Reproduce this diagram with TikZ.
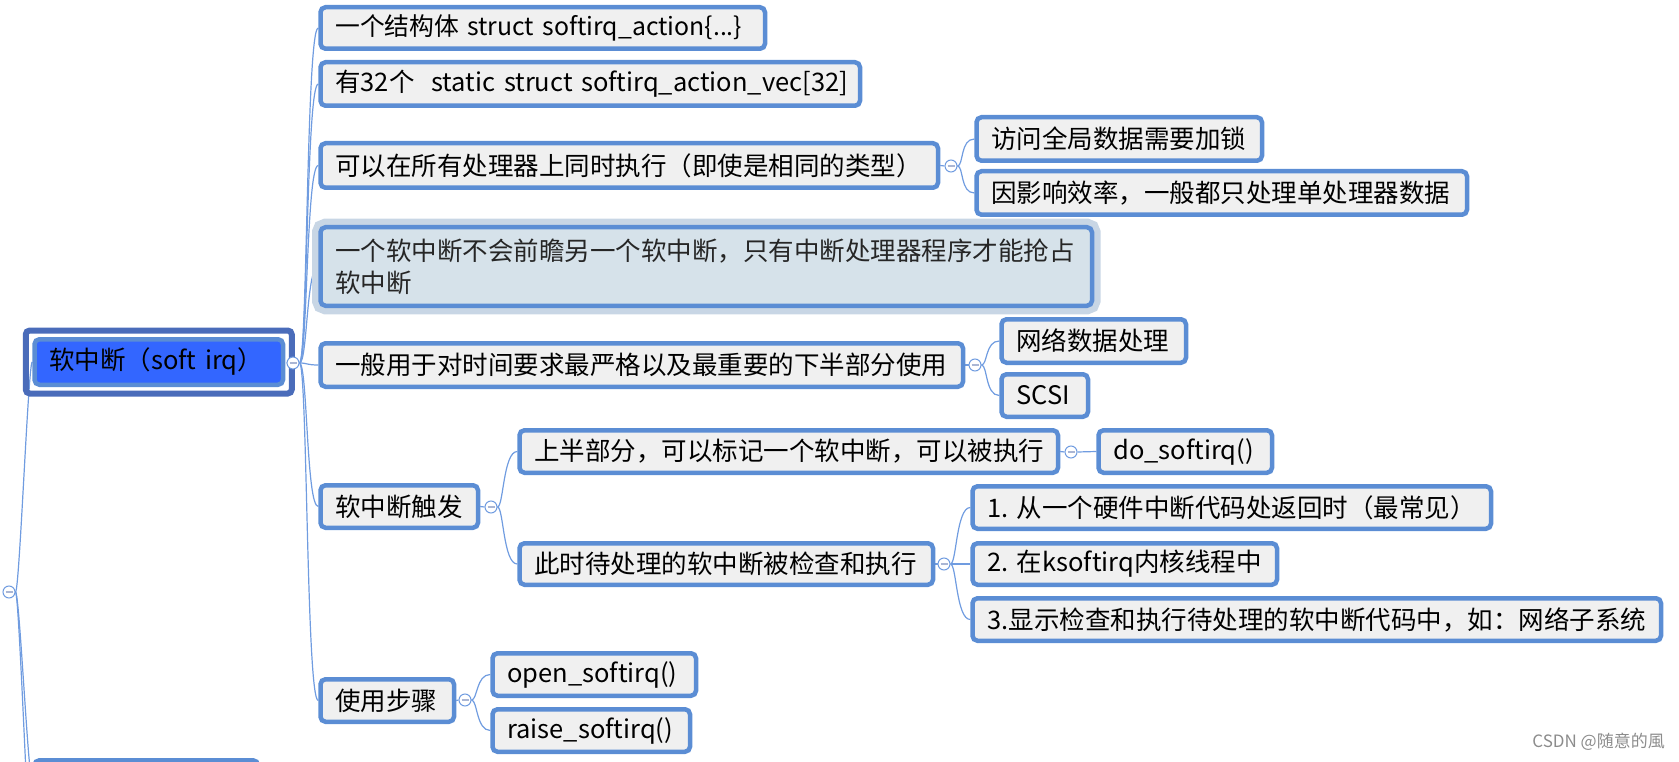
\documentclass[tikz,border=0pt]{standalone}
\usepackage{fontspec}
\setmainfont{Noto Sans CJK SC}
\usetikzlibrary{backgrounds,fit}
\frenchspacing
\definecolor{bblue}{RGB}{91,141,212}
\definecolor{boxgray}{RGB}{240,240,240}
\definecolor{lblue}{RGB}{112,156,224}
\definecolor{togdash}{RGB}{170,182,212}
\definecolor{hlfill}{RGB}{214,226,234}
\definecolor{halo}{RGB}{200,214,229}
\definecolor{rootfill}{RGB}{51,102,255}
\definecolor{rootframe}{RGB}{74,108,186}
\newcommand\tnode[7][]{%
  \pgfmathsetmacro\tnw{#4-#3-34}%
  \pgfmathsetmacro\tnh{#6-#5-4.5}%
  \pgfmathsetmacro\tny{(#5+#6)/2}%
  \pgfmathsetmacro\tnx{#3+2.25}%
  \node[tbox,#1,anchor=west,text width=\tnw pt,minimum height=\tnh pt] (#2) at (\tnx,\tny) {#7};}
\tikzset{
  tbox/.style={draw=bblue, line width=4.5pt, fill=boxgray, rounded corners=5pt,
    inner xsep=14.75pt, inner ysep=0pt, align=left, text=black,
    font=\fontsize{25.5}{32}\selectfont},
  narrowtext/.style={font=\fontsize{24.8}{32}\selectfont},
  hlbox/.style={fill=hlfill, text={black!85}, preaction={draw=halo, line width=17pt}},
  rootbox/.style={fill=rootfill},
  frame/.style={draw=rootframe, line width=6pt, rounded corners=4pt, inner sep=6.5pt},
  conn/.style={draw=lblue, line width=1.2pt},
  tog/.style={circle, draw=lblue, fill=white, line width=1pt, minimum size=12pt, inner sep=0pt,
    path picture={\draw[togdash, line width=1.6pt]
      ([xshift=-3.5pt]path picture bounding box.center) -- ([xshift=3.5pt]path picture bounding box.center);}},
  wmark/.style={text={black!45}, font=\fontsize{17}{19}\selectfont, inner sep=0pt},
}
\begin{document}
\begin{tikzpicture}[x=1pt,y=-1pt]
\useasboundingbox (0,0) rectangle (1679,762);
\clip (0,0) rectangle (1679,762);

% root
\tnode[rootbox]{root}{30}{283}{337}{387}{软中断（soft~irq）}
\node[frame, fit=(root)] (rootf) {};

% first level
\tnode[narrowtext]{b1}{316}{765}{5}{51}{一个结构体~struct~softirq\_action\{...\}}
\tnode{b2}{316}{860}{60}{108}{有32个~~static~struct~softirq\_action\_vec[32]}
\tnode{b3}{316}{938}{141}{190}{可以在所有处理器上同时执行（即使是相同的类型）}
\tnode[hlbox]{b4}{316}{1092}{225}{308}{\raisebox{-2pt}{一个软中断不会前瞻另一个软中断，只有中断处理器程序才能抢占}\\\raisebox{-2pt}{软中断}}
\tnode{b5}{316}{963}{341}{389}{一般用于对时间要求最严格以及最重要的下半部分使用}
\tnode{b6}{316}{478}{483}{530}{软中断触发}
\tnode{b7}{316}{454}{677}{724}{使用步骤}

% second level
\tnode{s3a}{972}{1262}{115}{163}{访问全局数据需要加锁}
\tnode{s3b}{972}{1467}{169}{217}{因影响效率，一般都只处理单处理器数据}
\tnode{s5a}{997}{1186}{317}{365}{网络数据处理}
\tnode{s5b}{997}{1088}{372}{419}{SCSI}
\tnode{s6a}{515}{1058}{428}{475}{上半部分，可以标记一个软中断，可以被执行}
\tnode{s6b}{515}{933}{541}{587}{此时待处理的软中断被检查和执行}
\tnode{s7a}{488}{696}{651}{698}{open\_softirq()}
\tnode{s7b}{488}{690}{707}{754}{raise\_softirq()}

% third level
\tnode{s6a1}{1094}{1272}{428}{475}{do\_softirq()}
\tnode{s6b1}{968}{1491}{484}{531}{1.~从一个硬件中断代码处返回时（最常见）}
\tnode{s6b2}{968}{1277}{541}{587}{2.~在ksoftirq内核线程中}
\tnode{s6b3}{968}{1661}{596}{643}{3.显示检查和执行待处理的软中断代码中，如：网络子系统}

% sibling of root (cut off at the bottom)
\tnode{bot}{30}{258}{758}{805}{}
\coordinate (below) at (34,900);

% toggles
\node[tog] (gc) at (9,592) {};
\node[tog] (rc) at (293,363) {};
\node[tog] (c3) at (951,166) {};
\node[tog] (c5) at (975,365) {};
\node[tog] (c6) at (491,507) {};
\node[tog] (c6a) at (1071,452) {};
\node[tog] (c6b) at (944,564) {};
\node[tog] (c7) at (465,700) {};

\begin{scope}[on background layer]
  \draw[conn] (gc.east) .. controls +(4,0) and +(-4,0) .. (root.west);
  \draw[conn] (gc.east) .. controls +(4,0) and +(-4,0) .. (bot.west);
  \draw[conn] (gc.east) .. controls +(4,0) and +(-4,0) .. (below);
  \draw[conn] (rootf.east) -- (rc.west);
  \foreach \c in {b1,b2,b3,b4,b5,b6,b7}
    \draw[conn] (rc.east) .. controls +(8,0) and +(-12,0) .. (\c.west);
  \draw[conn] (b3.east) -- (c3.west);
  \foreach \c in {s3a,s3b}
    \draw[conn] (c3.east) .. controls +(6,0) and +(-14,0) .. (\c.west);
  \draw[conn] (b5.east) -- (c5.west);
  \foreach \c in {s5a,s5b}
    \draw[conn] (c5.east) .. controls +(6,0) and +(-14,0) .. (\c.west);
  \draw[conn] (b6.east) -- (c6.west);
  \foreach \c in {s6a,s6b}
    \draw[conn] (c6.east) .. controls +(6,0) and +(-14,0) .. (\c.west);
  \draw[conn] (s6a.east) -- (c6a.west);
  \draw[conn] (c6a.east) -- (s6a1.west);
  \draw[conn] (s6b.east) -- (c6b.west);
  \foreach \c in {s6b1,s6b2,s6b3}
    \draw[conn] (c6b.east) .. controls +(6,0) and +(-14,0) .. (\c.west);
  \draw[conn] (b7.east) -- (c7.west);
  \foreach \c in {s7a,s7b}
    \draw[conn] (c7.east) .. controls +(6,0) and +(-14,0) .. (\c.west);
\end{scope}

\node[wmark, anchor=east] (wm) at (1665,742) {CSDN @随意的風};
\end{tikzpicture}
\end{document}
